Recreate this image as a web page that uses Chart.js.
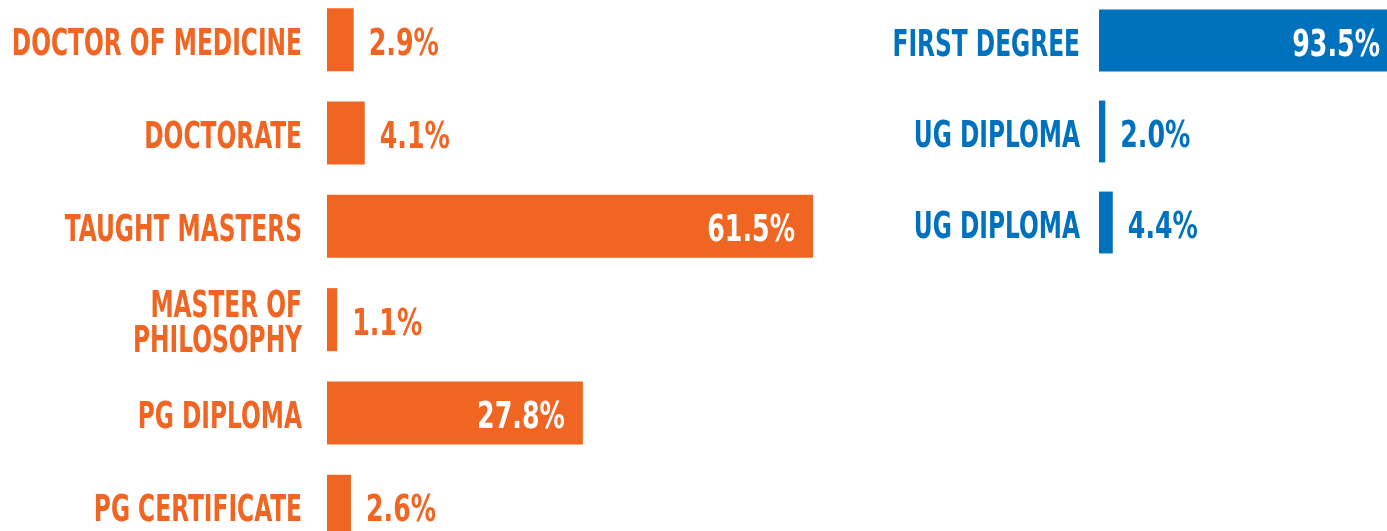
<!DOCTYPE html>
<html>
<head>
<meta charset="utf-8">
<script src="https://cdn.jsdelivr.net/npm/chart.js@4.4.1/dist/chart.umd.min.js"></script>
<style>
    body { margin: 0; background: #fff; overflow: hidden; width: 1387px; height: 531px; position: relative; }
    canvas { position: absolute; }
    #pgChart { left: 0; top: -7px; }
    #ugChart { left: 880px; top: -5px; }
</style>
</head>
<body>
<canvas id="pgChart" width="813" height="560"></canvas>
<canvas id="ugChart" width="507" height="273"></canvas>
<script>
const pgLabels = ['DOCTOR OF MEDICINE', 'DOCTORATE', 'TAUGHT MASTERS', ['MASTER OF', 'PHILOSOPHY'], 'PG DIPLOMA', 'PG CERTIFICATE'];
const pgValues = [2.9, 4.1, 61.5, 1.1, 27.8, 2.6];

const ugLabels = ['FIRST DEGREE', 'UG DIPLOMA', 'UG DIPLOMA'];
const ugValues = [93.5, 2.0, 4.4];

const ORANGE = '#F16522';
const BLUE = '#0071BC';
const FONT = "'DejaVu Sans Condensed', 'DejaVu Sans', sans-serif";


// the original uses a condensed face, so text gets narrowed around its anchor
function narrowText(ctx, text, x, y, align, squeeze) {
    ctx.save();
    ctx.translate(x, y);
    ctx.scale(squeeze, 1);
    ctx.textAlign = align;
    ctx.fillText(text, 0, 0);
    ctx.restore();
}


// category names on the left of the axis, percents at the bar ends
const barTexts = {
    id: 'barTexts',
    afterDatasetsDraw(chart, args, opts) {
        const ctx = chart.ctx;
        const area = chart.chartArea;
        const yScale = chart.scales.y;
        const meta = chart.getDatasetMeta(0);
        const values = chart.data.datasets[0].data;

        ctx.save();
        ctx.font = 'bold 37px ' + FONT;
        ctx.textBaseline = 'alphabetic';

        chart.data.labels.forEach((label, i) => {
            const lines = Array.isArray(label) ? label : [label];
            const y = yScale.getPixelForTick(i);
            const first = y + 15 - (lines.length - 1) * 35 / 2;
            ctx.fillStyle = opts.color;
            lines.forEach((line, k) => {
                narrowText(ctx, line, area.left - opts.labelPad, first + k * 35, 'right', 0.70);
            });
        });

        meta.data.forEach((bar, i) => {
            const end = Math.min(bar.x, area.right);
            const text = values[i].toFixed(1) + '%';
            if (end - bar.base > 120) {
                ctx.fillStyle = '#fff';
                narrowText(ctx, text, end - opts.inset, bar.y + 15, 'right', 0.76);
            } else {
                ctx.fillStyle = opts.color;
                narrowText(ctx, text, end + 15, bar.y + 15, 'left', 0.76);
            }
        });
        ctx.restore();
    }
};


function makeBarChart(id, labels, values, color, xMax, axisWidth, labelPad, barPct, inset) {
    return new Chart(document.getElementById(id), {
        type: 'bar',
        data: {
            labels: labels,
            datasets: [{
                data: values,
                backgroundColor: color,
                borderWidth: 0,
                categoryPercentage: 1,
                barPercentage: barPct,
                clip: 0
            }]
        },
        options: {
            indexAxis: 'y',
            responsive: false,
            animation: false,
            devicePixelRatio: 1,
            layout: { padding: 0 },
            plugins: {
                legend: { display: false },
                tooltip: { enabled: false },
                barTexts: { color: color, inset: inset, labelPad: labelPad }
            },
            scales: {
                x: { display: false, min: 0, max: xMax },
                y: {
                    grid: { display: false, drawTicks: false },
                    border: { display: false },
                    ticks: { display: false, autoSkip: false, padding: 0 },
                    afterFit: (scale) => {
                        scale.width = axisWidth;
                        scale.paddingTop = 0;
                        scale.paddingBottom = 0;
                    }
                }
            }
        },
        plugins: [barTexts]
    });
}


makeBarChart('pgChart', pgLabels, pgValues, ORANGE, 52.8, 327, 25, 0.675, 18);
makeBarChart('ugChart', ugLabels, ugValues, BLUE, 92, 219, 19, 0.68, 7);
</script>
</body>
</html>
